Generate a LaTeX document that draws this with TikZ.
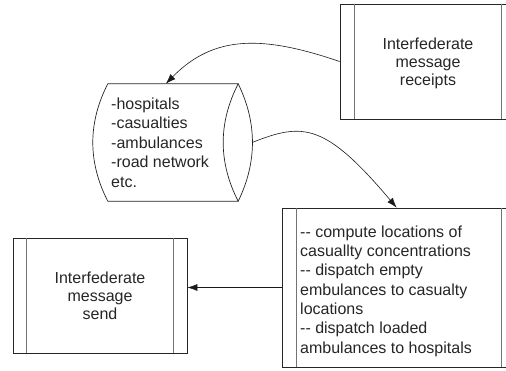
\documentclass[tikz,border=0pt]{standalone}
\usepackage{fontspec}
\setmainfont{Liberation Sans}
\usetikzlibrary{arrows.meta,calc}

\tikzset{
  frame/.style={draw=black!85, line width=0.7pt, fill=white, inner sep=0pt},
  stripe/.style={draw=black!55, line width=0.7pt},
  label16/.style={font=\fontsize{16}{18}\selectfont, text=black!85, inner sep=0pt},
  conn/.style={draw=black!90, line width=0.6pt, -{Latex[length=10pt,width=7pt]}},
}

\begin{document}
\begin{tikzpicture}[x=1pt,y=1pt]
  \useasboundingbox (0,0) rectangle (506,370);
  \clip (0,0) rectangle (506,370);

  % process boxes (the right-hand ones run past the edge)
  \node[frame, minimum width=176pt, minimum height=115pt] (recv) at (428,308.5) {};
  \node[frame, minimum width=234pt, minimum height=159pt] (task) at (399,82.5) {};
  \node[frame, minimum width=174pt, minimum height=115pt] (send) at (100,74.5) {};

  % inner bars of the process boxes
  \foreach \b/\d in {recv/15, task/15, send/14} {
    \draw[stripe] ($(\b.north west)+(\d,0)$) -- ($(\b.south west)+(\d,0)$);
    \draw[stripe] ($(\b.north east)+(-\d,0)$) -- ($(\b.south east)+(-\d,0)$);
  }

  % data store drawn as a lying cylinder
  \node[minimum width=130pt, minimum height=117pt, inner sep=0pt] (store) at (173,227.5) {};
  \draw[draw=black!85, line width=0.7pt, fill=white]
    (store.north west) -- (store.north east)
    .. controls +(-20,-39) and +(-20,39) .. (store.south east)
    -- (store.south west)
    .. controls +(-20,39) and +(-20,-39) .. (store.north west) -- cycle;
  \draw[draw=black!85, line width=0.7pt]
    (store.south east) .. controls +(19,39) and +(19,-39) .. (store.north east);

  % texts
  \node[label16, align=center] (recvtext) at (428,307) {Interfederate\\message\\receipts};
  \node[label16, align=center] (sendtext) at (100,74) {Interfederate\\message\\send};
  \node[label16, align=left, anchor=west, font=\fontsize{16}{19.6}\selectfont] (storetext) at (111,227.5)
    {-hospitals\\-casualties\\-ambulances\\-road network\\etc.};
  \node[label16, align=left, anchor=west, font=\fontsize{16}{19.3}\selectfont] (tasktext) at (300,79)
    {-{}- compute locations of\\casuallty concentrations\\-{}- dispatch empty\\embulances to casualty\\locations\\-{}- dispatch loaded\\ambulances to hospitals};

  % connector ends
  \coordinate (storetop) at ($(store.north west)+(58,0)$);
  \coordinate (storeR) at ($(store.east)+(14,0)$);
  \coordinate (tasktop) at ($(task.north west)+(115,0)$);

  % connectors
  \draw[conn] (recv.west) .. controls +(-75,25.5) and +(49,50) .. (storetop);
  \draw[conn] (storeR) .. controls +(51,20.4) and +(-71.5,84.6) .. (tasktop);
  \draw[conn] (task.west) -- (send.east |- task.west);
\end{tikzpicture}
\end{document}
